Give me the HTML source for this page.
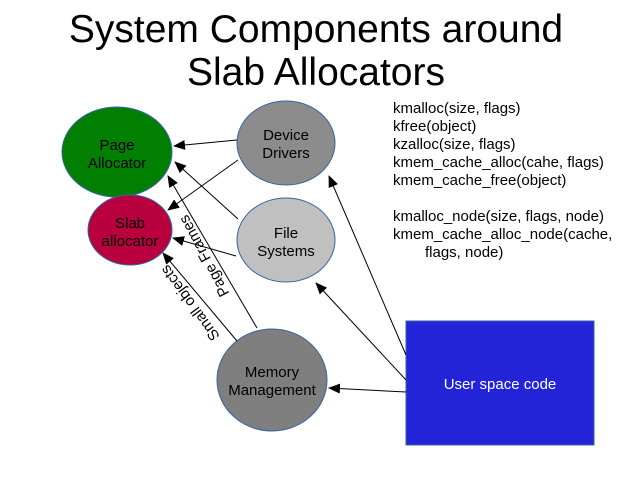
<!DOCTYPE html>
<html><head><meta charset="utf-8"><style>
html,body{margin:0;padding:0;background:#fff;}
svg{display:block;font-family:"Liberation Sans",sans-serif;}
</style></head><body>
<svg width="644" height="483" viewBox="0 0 644 483" xmlns="http://www.w3.org/2000/svg">
<defs><marker id="a" markerWidth="12" markerHeight="10" refX="11" refY="5" orient="auto" markerUnits="userSpaceOnUse"><path d="M0,0 L12,5 L0,10 Z" fill="#000"/></marker></defs>
<text x="316" y="42" font-size="39" text-anchor="middle">System Components around</text>
<text x="316" y="85" font-size="39" text-anchor="middle">Slab Allocators</text>
<ellipse cx="117" cy="152" rx="55" ry="45" fill="#007f00" stroke="#3465a4"/>
<ellipse cx="130" cy="230" rx="42" ry="35" fill="#b8003f" stroke="#3465a4"/>
<ellipse cx="286" cy="143" rx="49" ry="42" fill="#8c8c8c" stroke="#3465a4"/>
<ellipse cx="286" cy="240" rx="49" ry="42" fill="#c0c0c0" stroke="#3465a4"/>
<ellipse cx="272" cy="380" rx="55" ry="51" fill="#7f7f7f" stroke="#3465a4"/>
<rect x="406" y="321" width="188" height="124" fill="#2323d8" stroke="#3465a4"/>
<g font-size="15" text-anchor="middle">
<text x="117" y="150">Page</text><text x="117" y="168">Allocator</text>
<text x="130" y="228">Slab</text><text x="130" y="246">allocator</text>
<text x="286" y="140">Device</text><text x="286" y="158">Drivers</text>
<text x="286" y="238">File</text><text x="286" y="256">Systems</text>
<text x="272" y="377">Memory</text><text x="272" y="395">Management</text>
<text x="500" y="389" fill="#fff">User space code</text>
</g>
<g stroke="#000" stroke-width="1" marker-end="url(#a)">
<line x1="237" y1="140" x2="174" y2="146"/>
<line x1="238" y1="160" x2="168" y2="210"/>
<line x1="238" y1="219" x2="175" y2="162"/>
<line x1="236" y1="256" x2="173" y2="238"/>
<line x1="257" y1="328" x2="168" y2="176"/>
<line x1="237" y1="341" x2="163" y2="253"/>
<line x1="406" y1="355" x2="329" y2="176"/>
<line x1="406" y1="380" x2="316" y2="283"/>
<line x1="406" y1="392" x2="329" y2="388"/>
</g>
<text font-size="15" text-anchor="middle" transform="translate(204,256) rotate(242)" dy="5">Page Frames</text>
<text font-size="15" text-anchor="middle" transform="translate(190,303) rotate(234)" dy="5">Small objects</text>
<g font-size="15">
<text x="393" y="113">kmalloc(size, flags)</text>
<text x="393" y="131">kfree(object)</text>
<text x="393" y="149">kzalloc(size, flags)</text>
<text x="393" y="167">kmem_cache_alloc(cahe, flags)</text>
<text x="393" y="185">kmem_cache_free(object)</text>
<text x="393" y="221">kmalloc_node(size, flags, node)</text>
<text x="393" y="239">kmem_cache_alloc_node(cache,</text>
<text x="425" y="257">flags, node)</text>
</g>
</svg>
</body></html>
